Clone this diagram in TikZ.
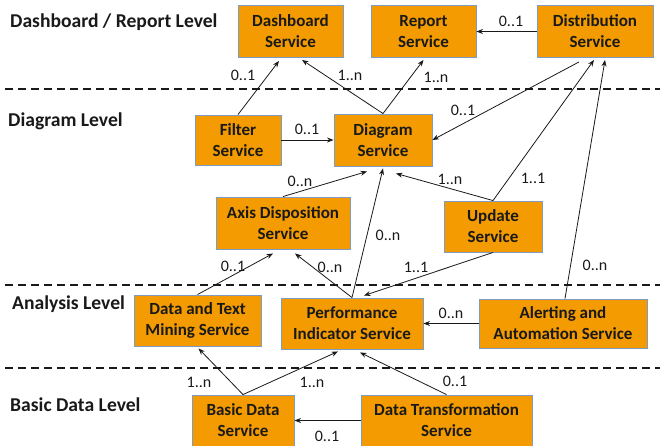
\documentclass[tikz,border=0pt]{standalone}
\usepackage{fontspec}
\setmainfont{Carlito}
\usetikzlibrary{calc,arrows.meta}
\definecolor{svcfill}{RGB}{243,155,0}
\definecolor{svcedge}{RGB}{125,155,195}
\definecolor{inkc}{RGB}{25,25,25}
\tikzset{
  svc/.style={draw=svcedge, line width=0.9pt, fill=svcfill, inner sep=0pt,
    align=center, text=inkc, font=\fontsize{17}{21}\selectfont\bfseries},
  lvl/.style={anchor=west, inner sep=0pt, text=inkc, font=\fontsize{19.6}{23}\selectfont\bfseries},
  mult/.style={inner sep=0pt, text=inkc, font=\fontsize{16}{19}\selectfont},
  link/.style={draw=inkc, line width=0.8pt, -{Stealth[length=6.5pt,width=5pt]}},
  sep/.style={draw=inkc, line width=1.3pt, dash pattern=on 8pt off 5pt}
}
\begin{document}
\begin{tikzpicture}[x=1pt, y=-1pt]
\useasboundingbox (0,0) rectangle (660,445);

% level separators
\draw[sep] (5,89) -- (660,89);
\draw[sep] (5,285) -- (660,285);
\draw[sep] (5,368) -- (660,368);

% level titles
\node[lvl] (lv1) at (10,22) {Dashboard / Report Level};
\node[lvl] (lv2) at (8,121) {Diagram Level};
\node[lvl] (lv3) at (12,304) {Analysis Level};
\node[lvl] (lv4) at (10,405) {Basic Data Level};

% services
\node[svc, minimum width=105pt, minimum height=52pt] (dash)    at (290.5,31.5) {Dashboard\\Service};
\node[svc, minimum width=105pt, minimum height=52pt] (report)  at (423.5,31.5) {Report\\Service};
\node[svc, minimum width=116pt, minimum height=52pt] (distr)   at (595,31.5)   {Distribution\\Service};
\node[svc, minimum width=86pt,  minimum height=50pt] (filter)  at (238,140)    {Filter\\Service};
\node[svc, minimum width=98pt,  minimum height=52pt] (diagram) at (383,140)    {Diagram\\Service};
\node[svc, minimum width=134pt, minimum height=52pt] (axis)    at (283,223)    {Axis Disposition\\Service};
\node[svc, minimum width=98pt,  minimum height=51pt] (update)  at (493,226.5)  {Update\\Service};
\node[svc, minimum width=127pt, minimum height=51pt] (mining)  at (197.5,320.5) {Data and Text\\Mining Service};
\node[svc, minimum width=142pt, minimum height=51pt] (perf)    at (352,323.5)  {Performance\\Indicator Service};
\node[svc, minimum width=168pt, minimum height=49pt] (alert)   at (563,323.5)  {Alerting and\\Automation Service};
\node[svc, minimum width=102pt, minimum height=51pt] (basic)   at (243,420.5)  {Basic Data\\Service};
\node[svc, minimum width=171pt, minimum height=51pt] (dtrans)  at (446.5,420.5) {Data Transformation\\Service};

% dependencies
\draw[link] (filter.north) -- ($(dash.south)+(-11.5,3)$);
\draw[link] (diagram.north) -- ($(dash.south)+(11.5,2)$);
\draw[link] (diagram.north) -- ($(report.south)+(0,2)$);
\draw[link] (distr.west) -- (report.east);
\draw[link] ($(distr.south)+(-16,4)$) -- (diagram.east);
\draw[link] (filter.east) -- (diagram.west);
\draw[link] (axis.north) -- ($(diagram.south)+(-16,5)$);
\draw[link] (perf.north) -- ($(diagram.south)+(0,2)$);
\draw[link] (update.north) -- ($(diagram.south)+(13,7)$);
\draw[link] (update.north) -- ($(distr.south)+(-1,2)$);
\draw[link] (update.south) -- ($(perf.north)+(12,-2)$);
\draw[link] ($(alert.north)+(2,0)$) -- ($(distr.south)+(10,2)$);
\draw[link] (perf.north) -- ($(axis.south)+(12,4)$);
\draw[link] (mining.north) -- ($(axis.south)+(-10,4)$);
\draw[link] (alert.west) -- (perf.east);
\draw[link] (basic.north) -- ($(mining.south)+(1,2)$);
\draw[link] (basic.north) -- ($(perf.south)+(-14,2)$);
\draw[link] (dtrans.north) -- ($(perf.south)+(8,3)$);
\draw[link] (dtrans.west) -- (basic.east);

% multiplicities
\node[mult] (m1)  at (243,75)  {0..1};
\node[mult] (m2)  at (350,75)  {1..n};
\node[mult] (m3)  at (436,77)  {1..n};
\node[mult] (m4)  at (511,21)  {0..1};
\node[mult] (m5)  at (463,110) {0..1};
\node[mult] (m6)  at (307,129) {0..1};
\node[mult] (m7)  at (300,181) {0..n};
\node[mult] (m8)  at (388,235) {0..n};
\node[mult] (m9)  at (450,179) {1..n};
\node[mult] (m10) at (533,178) {1..1};
\node[mult] (m11) at (416,267) {1..1};
\node[mult] (m12) at (595,265) {0..n};
\node[mult] (m13) at (330,267) {0..n};
\node[mult] (m14) at (233,266) {0..1};
\node[mult] (m15) at (451,313) {0..n};
\node[mult] (m16) at (199,382) {1..n};
\node[mult] (m17) at (312,382) {1..n};
\node[mult] (m18) at (455,381) {0..1};
\node[mult] (m19) at (327,436) {0..1};
\end{tikzpicture}
\end{document}
